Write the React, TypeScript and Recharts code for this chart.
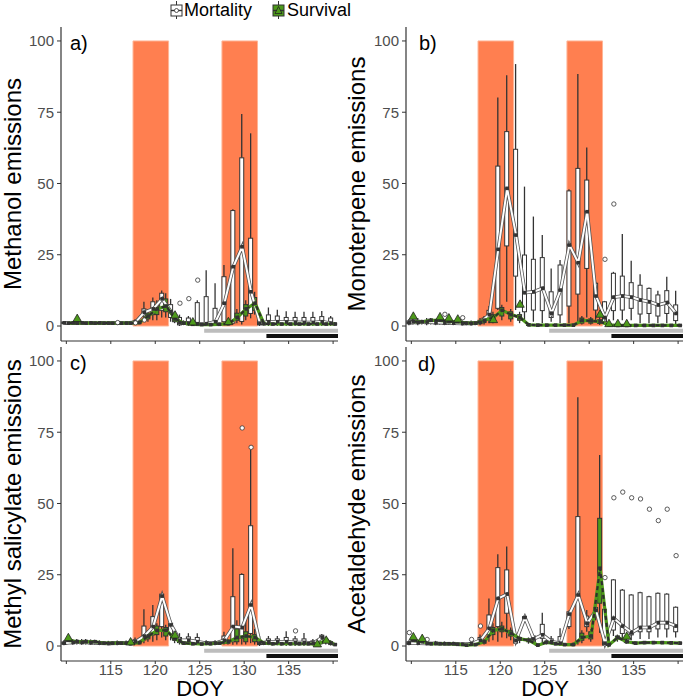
import React from 'react'
import { ComposedChart, XAxis, YAxis, Bar, Line, Scatter, ReferenceArea } from 'recharts'

type Box = [number, number, number, number, number] // lo, q1, median, q3, hi
type Pt = { day: number; v: number }

const DAYS = [110, 111, 112, 113, 114, 115, 116, 117, 118, 119, 120, 121, 122, 123, 124, 125, 126, 127, 128, 129, 130, 131, 132, 133, 134, 135, 136, 137, 138, 139, 140]
const X_TICKS = [110, 115, 120, 125, 130, 135, 140]
const Y_TICKS = [0, 25, 50, 75, 100]
const HEAT_WAVES = [[117.5, 121.5], [127.5, 131.5]]
const GREY_FROM = 125.5
const BLACK_FROM = 132.5

// a) methanol
const methanolMortality: Box[] = [
  [0.6, 0.9, 1.1, 1.4, 1.8], [0.6, 0.9, 1.1, 1.4, 1.8], [0.6, 0.9, 1.1, 1.3, 1.7], [0.6, 0.9, 1.1, 1.3, 1.7],
  [0.6, 0.9, 1.1, 1.3, 1.7], [0.6, 0.9, 1.0, 1.3, 1.7], [0.5, 0.8, 1.0, 1.2, 1.6], [0.5, 0.8, 1.0, 1.3, 1.7],
  [0.6, 0.9, 1.3, 1.8, 2.4], [2.5, 3.5, 4.8, 6, 8.5], [2, 4, 6, 8.5, 10], [3, 5.5, 9.5, 11.5, 12.5],
  [1.5, 3, 5, 7.5, 9.5], [0, 0.4, 1.2, 3, 4], [0, 0.4, 1, 2.8, 3.5], [0, 0.3, 0.8, 8.2, 9],
  [0, 0.3, 0.8, 10.3, 19.6], [0, 0.8, 1.5, 6.2, 15], [0.5, 1.5, 8, 17.3, 21.4], [0.5, 1, 20.8, 40.5, 41],
  [0.5, 1.6, 27.8, 59, 74.4], [2.7, 4.4, 12, 30.8, 67.6], [0, 0.4, 1, 2, 3], [0, 0.8, 1.5, 3.9, 6.5],
  [0, 0.8, 1.5, 3.5, 5.7], [0, 0.7, 1.4, 3, 5.2], [0, 0.6, 1.3, 3, 5], [0, 0.6, 1.2, 3, 5],
  [0, 0.6, 1.2, 3, 5], [0, 0.6, 1.5, 3.3, 5.3], [0, 0.5, 1, 2.8, 3.5],
]
const methanolSurvival: Box[] = [
  [0.5, 0.8, 1.0, 1.3, 1.6], [0.5, 0.8, 1.0, 1.3, 1.6], [0.5, 0.8, 1.0, 1.2, 1.5], [0.5, 0.8, 1.0, 1.2, 1.5],
  [0.5, 0.8, 1.0, 1.2, 1.5], [0.5, 0.8, 1.0, 1.2, 1.5], [0.5, 0.8, 1.0, 1.2, 1.5], [0.5, 0.8, 1.0, 1.2, 1.5],
  [0.6, 0.9, 1.2, 1.6, 2], [1.5, 2.5, 3.5, 4.5, 6], [2, 4, 6, 7.5, 9], [3, 5, 7, 9.5, 11.5],
  [1, 1.5, 2.5, 3, 3.5], [0.3, 0.6, 1, 1.5, 2], [0.2, 0.4, 0.6, 0.9, 1.2], [0.2, 0.4, 0.5, 0.8, 1.1],
  [0.2, 0.4, 0.5, 0.8, 1.1], [0.2, 0.4, 0.6, 0.9, 1.2], [0.3, 0.5, 0.8, 1.1, 1.3], [1, 2, 3, 4.5, 6],
  [2, 3.5, 6, 7.5, 9], [4, 5.5, 8, 10, 12], [0.2, 0.5, 0.8, 1.2, 1.6], [0.2, 0.4, 0.7, 1, 1.4],
  [0.2, 0.4, 0.7, 1, 1.4], [0.2, 0.4, 0.7, 1, 1.4], [0.2, 0.4, 0.7, 1, 1.4], [0.2, 0.4, 0.7, 1, 1.4],
  [0.2, 0.4, 0.7, 1, 1.4], [0.2, 0.4, 0.7, 1, 1.4], [0.2, 0.4, 0.7, 1, 1.4],
]
const methanolMortalityOut: Pt[] = [
  { day: 116, v: 1.2 }, { day: 118, v: 1.1 }, { day: 119, v: 2.1 }, { day: 123, v: 8 }, { day: 124, v: 9.6 }, { day: 125, v: 16.1 },
]
const methanolSurvivalOut: Pt[] = [
  { day: 111, v: 2.7 }, { day: 122, v: 3.9 }, { day: 124, v: 1.5 }, { day: 128, v: 1.6 },
]

// b) monoterpene
const monoMortality: Box[] = [
  [0.3, 0.8, 1.2, 1.8, 2.5], [0.3, 0.8, 1.3, 2, 2.8], [0.3, 0.8, 1.4, 2, 2.8], [0.3, 0.8, 1.2, 1.8, 2.5],
  [0.3, 0.7, 1.1, 1.6, 2.2], [0.3, 0.7, 1.0, 1.5, 2], [0.2, 0.6, 0.9, 1.4, 1.9], [0.2, 0.6, 0.9, 1.4, 1.9],
  [0.3, 0.8, 1.3, 2, 2.8], [1, 2, 4, 5.5, 7], [5.6, 6.2, 26.9, 56.1, 80.2], [8.5, 28.1, 48.3, 68.2, 88],
  [5.6, 17.5, 31.9, 62, 91.9], [1.5, 5, 11.7, 24.9, 48.9], [1.5, 5.6, 12, 23.4, 38.4], [1, 5.4, 13.2, 24, 31.9],
  [1.5, 3, 4.5, 12, 20.2], [1, 3.9, 12.6, 21.4, 23.2], [1, 7, 28.4, 47.4, 48], [1, 11.2, 22.2, 55.3, 88.4],
  [3, 20.2, 40.1, 51.2, 62.6], [2, 5.6, 10.5, 15, 15.5], [1, 1.5, 3, 8.5, 8.8], [2, 5.4, 10.1, 18.5, 19],
  [2, 5.6, 10.5, 17.5, 32.3], [2, 6.2, 10.1, 15.2, 22.9], [1, 4.2, 9.1, 14.3, 18.2], [1, 4.4, 8.5, 13.2, 13.5],
  [1, 3.5, 7.4, 10.9, 12.4], [1, 4.4, 8.2, 12.4, 17.3], [0.5, 1.9, 4.4, 7.4, 12.4],
]
const monoSurvival: Box[] = [
  [0.5, 1, 1.5, 2, 2.5], [0.5, 1, 1.5, 1.9, 2.2], [0.5, 1.2, 2, 2.4, 2.8], [0.5, 1.2, 2, 2.4, 2.8],
  [0.4, 1, 1.5, 2, 2.4], [0.4, 1, 1.5, 1.9, 2.2], [0.3, 0.6, 1, 1.4, 1.8], [0.3, 0.6, 1, 1.4, 1.8],
  [0.5, 1.2, 2, 2.8, 3.5], [1, 2, 3, 4, 5], [2, 3.5, 5.5, 6.5, 7.5], [1.5, 2.5, 4, 5, 6],
  [1, 2, 3, 4, 5], [0.1, 0.2, 0.4, 0.6, 0.8], [0.1, 0.2, 0.3, 0.5, 0.7], [0.1, 0.2, 0.3, 0.5, 0.7],
  [0.1, 0.2, 0.3, 0.5, 0.7], [0.1, 0.2, 0.3, 0.5, 0.7], [0.1, 0.2, 0.3, 0.5, 0.7], [0.5, 1, 2, 2.8, 3.5],
  [0.5, 1, 1.8, 2.5, 3.2], [0.4, 0.9, 1.5, 2.2, 3], [0.1, 0.2, 0.4, 0.6, 0.8], [0.05, 0.1, 0.2, 0.35, 0.5],
  [0.05, 0.1, 0.2, 0.35, 0.5], [0.05, 0.1, 0.2, 0.35, 0.5], [0.05, 0.1, 0.2, 0.35, 0.5], [0.05, 0.1, 0.2, 0.35, 0.5],
  [0.05, 0.1, 0.2, 0.35, 0.5], [0.05, 0.1, 0.2, 0.35, 0.5], [0.05, 0.1, 0.2, 0.35, 0.5],
]
const monoMortalityOut: Pt[] = [
  { day: 114, v: 4.1 }, { day: 116, v: 2.9 }, { day: 132, v: 23.4 }, { day: 133, v: 42.8 },
]
const monoSurvivalOut: Pt[] = [
  { day: 110, v: 3.5 }, { day: 113, v: 3.3 }, { day: 114, v: 2.9 }, { day: 115, v: 2.5 }, { day: 119, v: 2.3 },
  { day: 122, v: 7.7 }, { day: 131, v: 4.2 }, { day: 132, v: 0.9 }, { day: 133, v: 0.9 }, { day: 134, v: 0.9 },
]

// c) methyl salicylate
const mesaMortality: Box[] = [
  [0.3, 0.6, 1, 1.4, 2], [0.4, 0.8, 1.3, 1.8, 2.5], [0.4, 0.8, 1.3, 1.8, 2.5], [0.4, 0.8, 1.2, 1.7, 2.3],
  [0.3, 0.6, 1, 1.4, 2], [0.3, 0.6, 0.9, 1.3, 1.8], [0.3, 0.6, 1, 1.4, 1.9], [0.3, 0.6, 1, 1.4, 1.9],
  [0.5, 1, 1.5, 2.2, 3], [1, 2.1, 3.5, 7, 12.9], [1.5, 3.9, 6.8, 10.3, 14.4], [3, 6.8, 17.5, 18.2, 18.5],
  [2, 4.2, 7.4, 8, 9], [0.5, 1.2, 2, 3, 4.5], [0.5, 1.2, 2, 3.2, 4.5], [0.5, 1, 1.5, 3, 4.5],
  [0.3, 0.6, 1, 1.5, 2], [0.3, 0.6, 1, 1.5, 2], [0.5, 1, 2, 3.5, 5], [0.4, 1.5, 6.8, 17.3, 34.3],
  [0.5, 2.7, 6.5, 25.1, 25.5], [1, 4.4, 14.4, 42.2, 68.8], [0, 0.5, 1, 2, 3.5], [0.3, 0.8, 1.5, 2.5, 3.5],
  [0.3, 0.8, 1.5, 2.5, 3.5], [0, 0.8, 1.5, 3, 5.2], [0, 0.5, 1.2, 2.5, 3.5], [0, 0.5, 1.2, 2.5, 4.6],
  [0.2, 0.5, 1, 1.8, 2.5], [0.5, 1.5, 3, 3.8, 4.2], [0.2, 0.5, 1, 1.5, 2],
]
const mesaSurvival: Box[] = [
  [1, 1.5, 2, 2.5, 2.8], [0.5, 1, 1.5, 2, 2.5], [0.5, 1, 1.5, 2, 2.5], [0.5, 1, 1.5, 1.8, 2.2],
  [0.4, 0.7, 1, 1.3, 1.6], [0.4, 0.7, 1, 1.3, 1.6], [0.4, 0.7, 1, 1.3, 1.6], [0.3, 0.5, 0.8, 1, 1.2],
  [0.5, 0.8, 1.2, 1.6, 2], [1.5, 2.5, 3.5, 4.5, 5.5], [2, 4, 5.5, 7, 8], [2, 3.5, 5.5, 6.5, 7.5],
  [1, 2, 2.5, 3, 3.5], [0.4, 0.7, 1, 1.3, 1.6], [0.3, 0.5, 0.8, 1.1, 1.4], [0.3, 0.5, 0.7, 1, 1.3],
  [0.3, 0.5, 0.8, 1.1, 1.4], [0.4, 0.7, 1, 1.3, 1.6], [0.5, 1, 1.5, 2, 2.5], [0.5, 1.5, 3, 6, 9],
  [0.5, 1.5, 3.5, 5, 10.3], [0.5, 1.5, 3, 4, 6], [0.3, 0.6, 1, 1.3, 1.6], [0.2, 0.5, 0.8, 1.1, 1.4],
  [0.2, 0.5, 0.8, 1.1, 1.4], [0.2, 0.5, 0.8, 1.1, 1.4], [0.2, 0.5, 0.8, 1.1, 1.4], [0.2, 0.5, 0.8, 1.1, 1.4],
  [0.2, 0.4, 0.6, 0.9, 1.2], [0.5, 1.2, 2, 2.5, 3], [0.2, 0.4, 0.5, 0.8, 1],
]
const mesaMortalityOut: Pt[] = [{ day: 130, v: 76.5 }, { day: 131, v: 69.7 }, { day: 136, v: 5.3 }]
const mesaSurvivalOut: Pt[] = [
  { day: 110, v: 3 }, { day: 117, v: 1.5 }, { day: 122, v: 3.9 }, { day: 138, v: 0.8 }, { day: 139, v: 2.1 },
]

// d) acetaldehyde
const acetMortality: Box[] = [
  [0.3, 0.6, 1, 1.5, 2], [0.3, 0.6, 1, 1.4, 1.9], [0.3, 0.6, 0.9, 1.3, 1.8], [0.3, 0.6, 0.9, 1.3, 1.8],
  [0.3, 0.5, 0.8, 1.2, 1.6], [0.3, 0.5, 0.8, 1.1, 1.5], [0.2, 0.4, 0.6, 0.9, 1.2], [0.3, 0.5, 0.8, 1.2, 1.6],
  [1, 1.5, 2, 3, 4], [1.5, 3.9, 6.2, 10.9, 16.7], [1.5, 6.8, 16.7, 27.5, 32.2], [2.7, 11.5, 18.2, 26.7, 34.9],
  [0.5, 1, 2, 3, 4], [9, 9.5, 10, 10.3, 10.6], [1, 1.5, 2.5, 3.5, 4], [1, 2.7, 3.9, 7.6, 11.7],
  [0.5, 1, 1.5, 2.5, 3.5], [0, 0.5, 1, 3.3, 6.2], [6, 6.8, 11.2, 12, 12.5], [0.5, 1.5, 17.9, 45.4, 87.3],
  [5, 6.8, 8, 10.5, 12.6], [9, 11, 12.5, 13.5, 14.5], [0, 0.3, 1, 12.9, 13], [3.5, 5.6, 9.7, 23.2, 23.5],
  [2.5, 4.4, 7, 19.6, 20], [2, 3.9, 4.7, 17.9, 18.2], [2.5, 5, 6.5, 18.7, 19], [2.5, 5, 6.5, 17.3, 17.6],
  [3, 6, 8.2, 18.5, 18.8], [3, 6, 8.2, 18.2, 18.5], [3, 5, 7, 13.6, 13.9],
]
const acetSurvival: Box[] = [
  [0.8, 1.2, 2, 2.5, 2.8], [0.5, 1, 1.5, 2, 2.4], [0.3, 0.5, 0.8, 1.1, 1.4], [0.3, 0.5, 0.8, 1.1, 1.4],
  [0.3, 0.5, 0.8, 1.1, 1.4], [0.2, 0.4, 0.6, 0.9, 1.2], [0.1, 0.2, 0.3, 0.5, 0.7], [0.2, 0.3, 0.5, 0.7, 0.9],
  [0.5, 1, 1.5, 2, 2.5], [2, 4, 5.5, 6.5, 8], [3, 5, 6, 7, 8.5], [2, 3.5, 4.5, 5.5, 6.5],
  [1, 2, 2.5, 3, 3.5], [0.8, 1.5, 2, 2.5, 3], [0.1, 0.2, 0.3, 0.5, 0.7], [0.5, 1, 1.3, 1.7, 2],
  [0.3, 0.5, 0.8, 1.1, 1.4], [0.2, 0.3, 0.5, 0.7, 0.9], [0.2, 0.3, 0.5, 0.8, 1.1], [1, 2, 3, 4.5, 5.5],
  [1.5, 2.5, 3.5, 5, 6], [4.6, 15, 27.3, 44.8, 67], [0.1, 0.2, 0.4, 0.6, 0.8], [1.5, 2.5, 3, 3.5, 4],
  [0.8, 1.2, 1.5, 2, 2.5], [0.5, 0.8, 1, 1.3, 1.6], [0.6, 0.9, 1.2, 1.5, 1.8], [0.6, 0.9, 1.2, 1.5, 1.8],
  [0.6, 0.9, 1.2, 1.5, 1.8], [0.5, 0.8, 1.1, 1.4, 1.7], [0.5, 0.8, 1, 1.3, 1.6],
]
const acetMortalityOut: Pt[] = [
  { day: 110, v: 4.7 }, { day: 112, v: 2.3 }, { day: 117, v: 2.3 }, { day: 118, v: 7 }, { day: 132, v: 24 },
  { day: 133, v: 52 }, { day: 134, v: 54 }, { day: 135, v: 52 }, { day: 136, v: 51.6 }, { day: 137, v: 48 },
  { day: 138, v: 44 }, { day: 139, v: 48 }, { day: 140, v: 31.7 },
]
const acetSurvivalOut: Pt[] = [{ day: 110, v: 3.3 }, { day: 111, v: 2.7 }, { day: 134, v: 3.5 }]

const X_DOMAIN = [109.4, 140.55]
const Y_DOMAIN = [-5.26, 104.9]
const DODGE = 0.225

const FONT = '"Liberation Sans", Arial, Helvetica, sans-serif'
const GREEN = '#4d9a1a'
const DARK = '#333333'

// accessors: the axes also see the outlier rows, which have no box
const boxRange = (key: 'm' | 's') => (r: any) => (r && r[key] ? [r[key][0], r[key][4]] : null)
const median = (key: 'm' | 's') => (r: any) => (r && r[key] ? r[key][2] : null)

function BoxGlyph(props: any) {
  const { x, y, width, height, payload, stat, fill } = props
  const b: Box | undefined = payload && payload[stat]
  if (!b || !Number.isFinite(y) || !Number.isFinite(height)) return null
  const top = Math.min(y, y + height)
  const bottom = Math.max(y, y + height)
  const k = b[4] > b[0] ? (bottom - top) / (b[4] - b[0]) : 0
  const py = (v: number) => bottom - (v - b[0]) * k
  const cx = x + width / 2
  return (
    <g>
      <line x1={cx} x2={cx} y1={py(b[4])} y2={py(b[3])} stroke={DARK} strokeWidth={1.3} />
      <line x1={cx} x2={cx} y1={py(b[1])} y2={py(b[0])} stroke={DARK} strokeWidth={1.3} />
      <rect x={x} y={py(b[3])} width={width} height={Math.max(py(b[1]) - py(b[3]), 0.6)} fill={fill} stroke={DARK} strokeWidth={1} />
      <line x1={x} x2={x + width} y1={py(b[2])} y2={py(b[2])} stroke={DARK} strokeWidth={1.8} />
    </g>
  )
}

const SquareDot = (p: any) =>
  Number.isFinite(p.cy) ? (
    <rect key={`sq-${p.index}`} x={p.cx - 1.8} y={p.cy - 1.8} width={3.6} height={3.6} fill={DARK} />
  ) : (
    <g key={`sq-${p.index}`} />
  )

const Circle = (p: any) => <circle cx={p.cx} cy={p.cy} r={2.2} fill="#fff" stroke={DARK} strokeWidth={0.8} />

const Triangle = (p: any) => (
  <polygon
    points={`${p.cx},${p.cy - 4.2} ${p.cx - 4.2},${p.cy + 3.2} ${p.cx + 4.2},${p.cy + 3.2}`}
    fill={GREEN}
    stroke="#222"
    strokeWidth={0.8}
  />
)

const panels = [
  { letter: 'a)', title: 'Methanol emissions', mort: methanolMortality, surv: methanolSurvival, mortOut: methanolMortalityOut, survOut: methanolSurvivalOut },
  { letter: 'b)', title: 'Monoterpene emissions', mort: monoMortality, surv: monoSurvival, mortOut: monoMortalityOut, survOut: monoSurvivalOut },
  { letter: 'c)', title: 'Methyl salicylate emissions', mort: mesaMortality, surv: mesaSurvival, mortOut: mesaMortalityOut, survOut: mesaSurvivalOut },
  { letter: 'd)', title: 'Acetaldehyde emissions', mort: acetMortality, surv: acetSurvival, mortOut: acetMortalityOut, survOut: acetSurvivalOut },
]

function Panel({ panel, left, top, bottomRow }: any) {
  const data = DAYS.map((day, i) => ({ day, m: panel.mort[i], s: panel.surv[i] }))
  const xHeight = bottomRow ? 26 : 6
  return (
    <div style={{ position: 'absolute', left, top }}>
      <ComposedChart width={322} height={314 + xHeight} data={data} margin={{ top: 0, right: 0, bottom: 0, left: 0 }}>
        <XAxis
          xAxisId="a_main"
          dataKey="day"
          type="number"
          domain={X_DOMAIN}
          ticks={X_TICKS}
          allowDataOverflow
          height={xHeight}
          tickSize={3}
          tickMargin={0}
          axisLine={{ stroke: DARK, strokeWidth: 1.2 }}
          tickLine={{ stroke: DARK }}
          tick={{ fill: '#4d4d4d', fontSize: 15, fontFamily: FONT }}
          tickFormatter={(v: number) => (bottomRow && v !== 110 && v !== 140 ? String(v) : '')}
        />
        {/* hidden, shifted copies of the day axis: dodge Mortality left, Survival right */}
        <XAxis xAxisId="m" orientation="top" height={0} dataKey="day" type="number" domain={[X_DOMAIN[0] + DODGE, X_DOMAIN[1] + DODGE]} allowDataOverflow hide />
        <XAxis xAxisId="s" orientation="top" height={0} dataKey="day" type="number" domain={[X_DOMAIN[0] - DODGE, X_DOMAIN[1] - DODGE]} allowDataOverflow hide />
        <YAxis
          type="number"
          domain={Y_DOMAIN}
          ticks={Y_TICKS}
          allowDataOverflow
          width={45}
          tickSize={4}
          tickMargin={3}
          axisLine={{ stroke: DARK, strokeWidth: 1.2 }}
          tickLine={{ stroke: DARK }}
          tick={{ fill: '#4d4d4d', fontSize: 15, fontFamily: FONT }}
        />
        {HEAT_WAVES.map(([x1, x2]) => (
          <ReferenceArea key={x1} xAxisId="a_main" x1={x1} x2={x2} y1={0} y2={100} fill="#ff7f50" fillOpacity={1} stroke="#ffb596" strokeWidth={1} />
        ))}
        <ReferenceArea xAxisId="a_main" x1={GREY_FROM} x2={X_DOMAIN[1]} y1={-2.35} y2={-0.95} fill="#bdbdbd" fillOpacity={1} />
        <ReferenceArea xAxisId="a_main" x1={BLACK_FROM} x2={X_DOMAIN[1]} y1={-4.2} y2={-2.8} fill="#111" fillOpacity={1} />
        <Bar xAxisId="m" dataKey={boxRange('m')} barSize={4} isAnimationActive={false}
          shape={(p: any) => <BoxGlyph {...p} stat="m" fill="#ffffff" />} />
        <Bar xAxisId="s" dataKey={boxRange('s')} barSize={4} isAnimationActive={false}
          shape={(p: any) => <BoxGlyph {...p} stat="s" fill={GREEN} />} />
        <Line xAxisId="m" dataKey={median('m')} stroke="#555" strokeWidth={3.6} dot={false} activeDot={false} isAnimationActive={false} />
        <Line xAxisId="m" dataKey={median('m')} stroke="#ffffff" strokeWidth={2} dot={SquareDot} activeDot={false} isAnimationActive={false} />
        <Line xAxisId="s" dataKey={median('s')} stroke={GREEN} strokeWidth={3.2} dot={false} activeDot={false} isAnimationActive={false} />
        <Line xAxisId="s" dataKey={median('s')} stroke="#2e2e2e" strokeWidth={2.2} strokeDasharray="4 3" dot={SquareDot} activeDot={false} isAnimationActive={false} />
        <Scatter xAxisId="m" data={panel.mortOut} dataKey="v" shape={Circle} isAnimationActive={false} />
        <Scatter xAxisId="s" data={panel.survOut} dataKey="v" shape={Triangle} isAnimationActive={false} />
      </ComposedChart>
    </div>
  )
}

function LegendKey({ fill, marker }: { fill: string; marker: 'circle' | 'triangle' }) {
  return (
    <svg width={13} height={20} style={{ display: 'block' }}>
      <line x1={6.5} x2={6.5} y1={1} y2={19} stroke={DARK} strokeWidth={1} />
      <rect x={1} y={5} width={11} height={11} fill={fill} stroke={DARK} strokeWidth={1} />
      <line x1={1} x2={12} y1={10.5} y2={10.5} stroke={DARK} strokeWidth={1.4} />
      {marker === 'circle' ? (
        <circle cx={6.5} cy={10.5} r={2} fill="#fff" stroke={DARK} strokeWidth={0.8} />
      ) : (
        <polygon points="6.5,6.5 3,13.5 10,13.5" fill={GREEN} stroke="#222" strokeWidth={0.8} />
      )}
    </svg>
  )
}

export default function App() {
  const titleStyle: React.CSSProperties = {
    position: 'absolute',
    transform: 'translate(-50%, -50%) rotate(-90deg)',
    whiteSpace: 'nowrap',
    fontSize: 24,
    lineHeight: '26px',
    color: '#000',
  }
  const letterStyle: React.CSSProperties = { position: 'absolute', fontSize: 20, lineHeight: '20px', color: '#000' }
  const doyStyle: React.CSSProperties = {
    position: 'absolute',
    top: 679,
    transform: 'translateX(-50%)',
    fontSize: 22,
    lineHeight: '20px',
    color: '#000',
  }
  return (
    <div style={{ position: 'absolute', left: 0, top: 0, width: 685, height: 699, overflow: 'hidden', background: '#fff', fontFamily: FONT }}>
      {/* legend */}
      <div style={{ position: 'absolute', left: 170, top: 0, display: 'flex', alignItems: 'center', fontSize: 18, lineHeight: '20px' }}>
        <LegendKey fill="#ffffff" marker="circle" />
        <span style={{ marginLeft: 1 }}>Mortality</span>
        <span style={{ width: 20 }} />
        <LegendKey fill={GREEN} marker="triangle" />
        <span style={{ marginLeft: 2 }}>Survival</span>
      </div>

      <Panel panel={panels[0]} left={16} top={27} bottomRow={false} />
      <Panel panel={panels[1]} left={361} top={27} bottomRow={false} />
      <Panel panel={panels[2]} left={16} top={347} bottomRow />
      <Panel panel={panels[3]} left={361} top={347} bottomRow />

      <div style={{ ...titleStyle, left: 13, top: 184 }}>{panels[0].title}</div>
      <div style={{ ...titleStyle, left: 357, top: 184 }}>{panels[1].title}</div>
      <div style={{ ...titleStyle, left: 13, top: 504 }}>{panels[2].title}</div>
      <div style={{ ...titleStyle, left: 357, top: 504 }}>{panels[3].title}</div>

      <div style={{ ...letterStyle, left: 70, top: 33 }}>{panels[0].letter}</div>
      <div style={{ ...letterStyle, left: 419, top: 33 }}>{panels[1].letter}</div>
      <div style={{ ...letterStyle, left: 70, top: 353 }}>{panels[2].letter}</div>
      <div style={{ ...letterStyle, left: 418, top: 354 }}>{panels[3].letter}</div>

      <div style={{ ...doyStyle, left: 200 }}>DOY</div>
      <div style={{ ...doyStyle, left: 545 }}>DOY</div>
    </div>
  )
}
